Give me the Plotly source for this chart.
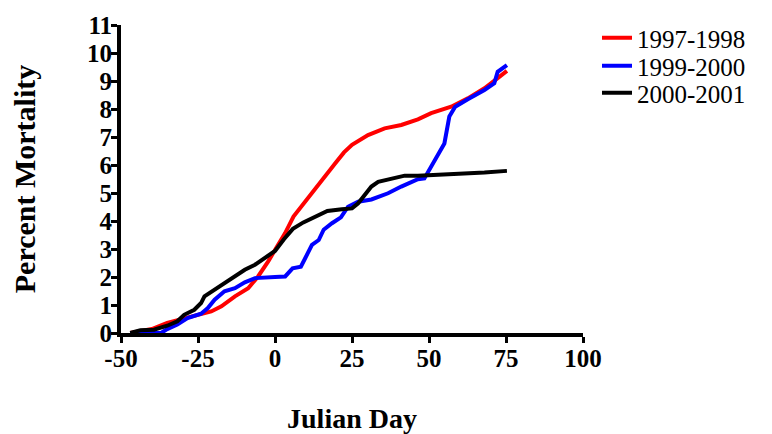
import plotly.graph_objects as go

# Cumulative percent mortality by Julian day, three seasons
red_day = [-47, -40, -35, -29.5, -24, -20.7, -17.4, -13, -8.7, -5.5, -2.2, 0, 3.3, 6, 8.7,
           14.2, 19.7, 22.4, 25, 30.2, 35.6, 41, 46.4, 50.7, 57.2, 62.6, 68, 72.3, 75.3]
red_pct = [0, 0.14, 0.36, 0.53, 0.69, 0.77, 0.95, 1.31, 1.6, 2.02, 2.56, 2.97, 3.57, 4.16, 4.55,
           5.3, 6.08, 6.45, 6.72, 7.07, 7.31, 7.43, 7.63, 7.85, 8.08, 8.38, 8.74, 9.1, 9.36]

blue_day = [-47, -37, -35, -31.7, -28.4, -24, -21.8, -19.6, -16.4, -13, -9.8, -6.5, 0, 3.3,
            5.7, 8.4, 9.8, 12, 14.2, 15.8, 18.5, 21.4, 23.7, 27, 31.3, 36.7, 41, 46.4, 48.5,
            51.2, 55, 56.6, 58.5, 62.6, 68, 71.2, 72.3, 75.3]
blue_pct = [0, 0, 0.14, 0.3, 0.53, 0.69, 0.89, 1.19, 1.49, 1.6, 1.81, 1.96, 2.0, 2.02,
            2.31, 2.37, 2.67, 3.15, 3.32, 3.69, 3.92, 4.13, 4.51, 4.69, 4.77, 4.99, 5.23, 5.49, 5.52,
            6.06, 6.77, 7.73, 8.08, 8.35, 8.68, 8.92, 9.33, 9.57]

black_day = [-47, -43.7, -39.3, -35, -31.7, -29.5, -26.2, -24, -22.9, -19.6, -16.4, -13, -9.8,
             -6.5, -3.3, 0, 2.9, 5.8, 9.2, 13, 17, 21.7, 25, 27, 29.7, 31.3, 33.5, 37.8, 42.1,
             46.4, 51.8, 57.2, 62.6, 68, 75.3]
black_pct = [0, 0.1, 0.12, 0.26, 0.42, 0.65, 0.83, 1.07, 1.31, 1.55, 1.78, 2.02, 2.26,
             2.44, 2.68, 2.93, 3.35, 3.72, 3.95, 4.15, 4.36, 4.42, 4.45, 4.63, 4.99, 5.23, 5.4, 5.52, 5.62,
             5.62, 5.64, 5.67, 5.7, 5.73, 5.79]

x_ticks = [-50, -25, 0, 25, 50, 75, 100]
y_ticks = list(range(0, 12))

series = [
    ("1997-1998", red_day, red_pct, "#ff0000"),
    ("1999-2000", blue_day, blue_pct, "#0000ff"),
    ("2000-2001", black_day, black_pct, "#000000"),
]

serif = "Liberation Serif"
# the page body keeps its default 8px margin, so the figure is 8px smaller
W, H = 764, 426

fig = go.Figure()
legend_ids = ["legend", "legend2", "legend3"]
for (name, x, y, color), lg in zip(series, legend_ids):
    fig.add_trace(go.Scatter(x=x, y=y, mode="lines", name=name, legend=lg,
                             line=dict(color=color, width=4)))

axis_common = dict(
    showline=True, linewidth=4, linecolor="black", showgrid=False, zeroline=False,
    ticks="outside", ticklen=6, tickwidth=3, tickcolor="black", automargin=False,
    ticklabelstandoff=-6,
    tickfont=dict(family=serif, size=25, color="black", weight="bold"),
)

# one small legend per season so the rows sit as tightly as in the original
row_px = [30, 58, 85]
legends = {}
for lg, py in zip(legend_ids, row_px):
    legends[lg] = dict(xref="container", yref="container", x=589 / W, y=1 - py / H,
                       xanchor="left", yanchor="middle",
                       font=dict(family=serif, size=25, color="black"),
                       itemwidth=30, bgcolor="rgba(0,0,0,0)")

fig.update_layout(
    width=W, height=H,
    margin=dict(l=113, r=189, t=17, b=101, autoexpand=False),
    plot_bgcolor="white", paper_bgcolor="white",
    showlegend=True,
    xaxis=dict(range=[-50, 100], tickvals=x_ticks,
               ticktext=["<b>%d</b>" % v for v in x_ticks],
               title=dict(text="<b>Julian Day</b>", standoff=39,
                          font=dict(family=serif, size=28, color="black")),
               **axis_common),
    yaxis=dict(range=[0, 11], tickvals=y_ticks,
               ticktext=["<b>%d</b>" % v for v in y_ticks],
               title=dict(text="<b>Percent Mortality</b>", standoff=56,
                          font=dict(family=serif, size=30, color="black")),
               **axis_common),
    **legends,
)

fig.write_html("out.html")
